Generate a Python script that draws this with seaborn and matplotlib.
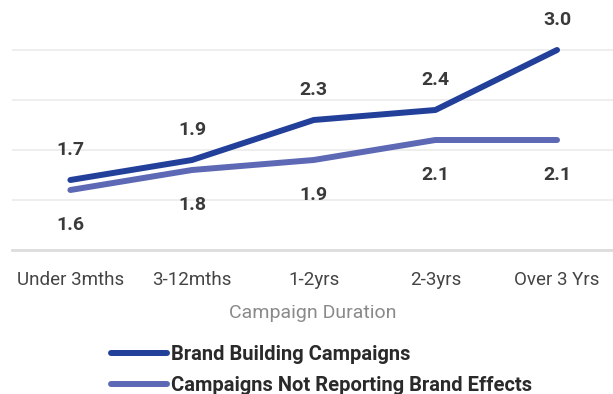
import matplotlib
matplotlib.use("Agg")
import matplotlib.pyplot as plt
import seaborn as sns
import pandas as pd

# Average effect by campaign duration
durations = ["Under 3mths", "3-12mths", "1-2yrs", "2-3yrs", "Over 3 Yrs"]
brand_building = [1.7, 1.9, 2.3, 2.4, 3.0]
not_reporting = [1.6, 1.8, 1.9, 2.1, 2.1]
series_names = ["Brand Building Campaigns", "Campaigns Not Reporting Brand Effects"]

df = pd.DataFrame({
    "Duration": durations * 2,
    "Value": brand_building + not_reporting,
    "Series": [series_names[0]] * len(durations) + [series_names[1]] * len(durations),
})

sns.set_theme(style="white")
plt.rcParams["font.family"] = ["Roboto", "DejaVu Sans"]

palette = {series_names[0]: "#22409a", series_names[1]: "#5d69b5"}

fig = plt.figure(figsize=(6.13, 3.94), dpi=100)
ax = fig.add_axes([12 / 613, 1 - 250 / 394, 601 / 613, 250 / 394])

sns.lineplot(data=df, x="Duration", y="Value", hue="Series", palette=palette,
             linewidth=4.3, sort=False, ax=ax, legend=False,
             solid_capstyle="round", zorder=3)

ax.set_xlim(-0.48, 4.46)
ax.set_ylim(1.0, 3.5)
ax.set_yticks([1.0, 1.5, 2.0, 2.5, 3.0])
ax.set_yticklabels([])
ax.tick_params(axis="y", length=0)
ax.tick_params(axis="x", length=0, pad=15, labelsize=13.5, labelcolor="#444444")
ax.grid(axis="y", color="#eeeeee", linewidth=1.4)
ax.grid(axis="x", visible=False)
for s in ["top", "right", "left"]:
    ax.spines[s].set_visible(False)
ax.spines["bottom"].set_color("#dddddd")
ax.spines["bottom"].set_linewidth(2.0)

ax.set_xlabel("Campaign Duration", fontsize=14, color="#8a8a8a", labelpad=11)
ax.set_ylabel("")

# Value labels: above for brand building, below for the other series
for i, v in enumerate(brand_building):
    ax.annotate(f"{v:.1f}", (i, v), xytext=(0, 21.6), textcoords="offset points",
                ha="center", va="center", fontsize=14, fontweight="bold",
                color="#3a3a3a")
for i, v in enumerate(not_reporting):
    ax.annotate(f"{v:.1f}", (i, v), xytext=(0, -25.2), textcoords="offset points",
                ha="center", va="center", fontsize=14, fontweight="bold",
                color="#3a3a3a")

handles = [plt.Line2D([], [], color=palette[n], linewidth=4.3, solid_capstyle="round")
           for n in series_names]
leg = fig.legend(handles, series_names, loc="upper left",
                 bbox_to_anchor=(111 / 613, 1 - 345 / 394), frameon=False,
                 borderpad=0, borderaxespad=0, handlelength=2.8,
                 handletextpad=0.2, labelspacing=0.6,
                 prop={"family": ["Roboto", "DejaVu Sans"], "weight": "bold", "size": 14.5})
for t in leg.get_texts():
    t.set_color("#2a2a2a")

fig.savefig("out.png", dpi=100)
